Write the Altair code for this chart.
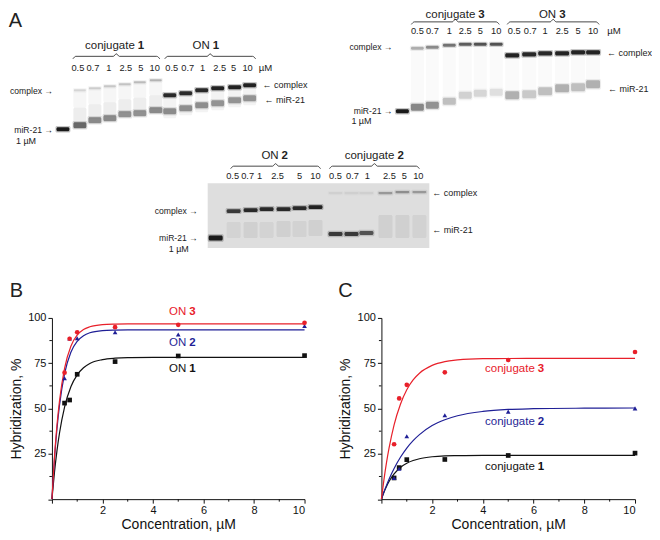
import altair as alt
import pandas as pd

FONT = "Liberation Sans"
RED, BLUE, BLACK = "#e8202a", "#1f1f96", "#111111"

# ---------------- panel B / C data ----------------
CONC = [0.5, 0.7, 1, 2.5, 5, 10]
ON1 = [53.0, 54.7, 68.9, 75.9, 79.0, 79.2]
ON2 = [66.7, 88.7, 88.8, 92.1, 90.9, 95.5]
ON3 = [69.8, 88.5, 92.1, 94.9, 96.2, 97.3]
FIT_X_B = [0, 0.1, 0.2, 0.3, 0.5, 0.75, 1, 1.25, 1.5, 2, 2.5, 3, 4, 6, 10]
ON1_FIT = [0, 14.8, 26.8, 36.5, 50.8, 62.0, 68.6, 72.5, 74.9, 77.0, 77.8, 78.1, 78.2, 78.2, 78.2]
ON2_FIT = [0, 22.1, 38.9, 51.8, 69.2, 81.1, 87.1, 90.2, 91.8, 93.0, 93.3, 93.4, 93.4, 93.4, 93.4]
ON3_FIT = [0, 23.2, 40.9, 54.3, 72.2, 84.4, 90.5, 93.6, 95.1, 96.3, 96.6, 96.7, 96.7, 96.7, 96.7]

CONJ1 = [11.7, 17.4, 21.8, 21.9, 24.1, 25.4]
CONJ2 = [11.7, 16.8, 34.7, 46.3, 48.3, 50.1]
CONJ3 = [30.3, 55.6, 63.1, 70.0, 76.8, 81.2]
FIT_X_C = [0, 0.1, 0.2, 0.3, 0.5, 0.75, 1, 1.25, 1.5, 2, 2.5, 3, 4, 5, 6, 8, 10]
CONJ1_FIT = [0, 3.8, 7.0, 9.7, 13.9, 17.5, 19.8, 21.3, 22.3, 23.4, 23.9, 24.05, 24.2, 24.2, 24.2, 24.2, 24.2]
CONJ2_FIT = [0, 4.0, 7.6, 11.0, 16.9, 23.1, 28.2, 32.3, 35.6, 40.6, 43.8, 46.0, 48.4, 49.5, 49.9, 50.2, 50.3]
CONJ3_FIT = [0, 10.8, 20.1, 28.1, 41.0, 52.4, 60.4, 65.8, 69.5, 73.8, 75.9, 76.8, 77.5, 77.6, 77.7, 77.7, 77.7]

B_NAMES = ["ON 1", "ON 2", "ON 3"]
C_NAMES = ["conjugate 1", "conjugate 2", "conjugate 3"]
B_LABEL_X = [5.16, 5.16, 5.16]
B_LABEL_Y = [71.6, 86.3, 103.3]
C_LABEL_X = [5.26, 5.26, 5.26]
C_LABEL_Y = [18.0, 42.6, 71.6]

# ---------------- gel data (figure pixel units of the picture) ----------------
G1_MARK = (60, 128)
G1_CONJ_X = [77, 92, 107, 122, 137, 153]
G1_CONJ_CPLX_Y = [89, 87, 85, 83, 81, 79]
G1_CONJ_CPLX_OP = [0.15, 0.18, 0.2, 0.22, 0.25, 0.28]
G1_CONJ_MIR_Y = [124, 119, 117, 113, 112, 109]
G1_CONJ_MIR_OP = [0.6, 0.45, 0.45, 0.42, 0.42, 0.45]
G1_ON_X = [167, 183, 199, 215, 232, 247]
G1_ON_CPLX_Y = [94, 92, 89, 87, 86, 84]
G1_ON_CPLX_OP = [0.9, 0.9, 0.92, 0.95, 0.95, 0.95]
G1_ON_MIR_Y = [110, 107, 104, 102, 99, 97]
G1_ON_MIR_OP = [0.42, 0.4, 0.4, 0.38, 0.38, 0.38]

G3_MARK = (400, 110)
G3_CONJ_X = [415, 430, 447, 463, 478, 494]
G3_CONJ_CPLX_Y = [47, 46, 44, 43, 43, 43]
G3_CONJ_CPLX_OP = [0.3, 0.45, 0.55, 0.65, 0.7, 0.7]
G3_CONJ_MIR_Y = [106, 104, 100, 94, 92, 91]
G3_CONJ_MIR_OP = [0.45, 0.4, 0.22, 0.15, 0.13, 0.1]
G3_ON_X = [510, 527, 543, 560, 576, 591]
G3_ON_CPLX_Y = [54, 53, 52, 52, 51, 51]
G3_ON_CPLX_OP = [0.95, 0.92, 0.92, 0.95, 0.95, 0.95]
G3_ON_MIR_Y = [94, 93, 90, 87, 86, 83]
G3_ON_MIR_OP = [0.28, 0.18, 0.22, 0.28, 0.22, 0.28]

G2_BOX = (205, 427, 182, 247)
G2_MARK = (213, 237)
G2_ON_X = [231, 248, 264, 281, 297, 313]
G2_ON_CPLX_Y = [210, 209, 208, 208, 207, 206]
G2_ON_CPLX_OP = [0.8, 0.9, 0.9, 0.9, 0.9, 0.95]
G2_ON_MIR_Y = [229, 229, 229, 228, 228, 227]
G2_ON_MIR_OP = [0.05, 0.07, 0.05, 0.07, 0.06, 0.07]
G2_CONJ_X = [333, 349, 364, 383, 400, 417]
G2_CONJ_CPLX_Y = [192, 192, 192, 192, 191, 191]
G2_CONJ_CPLX_OP = [0.05, 0.06, 0.06, 0.3, 0.35, 0.3]
G2_CONJ_MIR_Y = [233, 233, 232, 228, 228, 228]
G2_CONJ_MIR_OP = [0.8, 0.8, 0.65, 0.07, 0.07, 0.06]

CONC_LABELS = ["0.5", "0.7", "1", "2.5", "5", "10"]
G1_LAB_X = [75, 90, 106, 123, 138, 152, 169, 185, 200, 217, 231, 245]
G3_LAB_X = [415, 430, 447, 463, 478, 494, 512, 528, 543, 560, 576, 591]
G2_LAB_X = [230, 245, 257, 275, 297, 313, 333, 350, 365, 387, 402, 416]
LAB_Y = {"g1": 67, "g3": 30, "g2": 175}

HEADERS = [  # centre x, y, word, number
    (112, 45, "conjugate", "1"), (203, 45, "ON", "1"),
    (453, 14, "conjugate", "3"), (550, 14, "ON", "3"),
    (272, 155, "ON", "2"), (372, 155, "conjugate", "2"),
]
BRACES = [(70, 157, 55), (162, 253, 55), (409, 497, 20.5), (505, 597, 20.5),
          (228, 318, 165), (327, 417, 165)]
SIDE_RIGHT_ALIGNED = [("complex \u2192", 50, 90), ("miR-21 \u2192", 50, 129),
                      ("complex \u2192", 390, 46), ("miR-21 \u2192", 390, 110),
                      ("complex \u2192", 195, 210), ("miR-21 \u2192", 195, 237)]
SIDE_LEFT_ALIGNED = [("\u2190 complex", 260, 84), ("\u2190 miR-21", 262, 99),
                     ("\u2190 complex", 605, 52), ("\u2190 miR-21", 606, 88),
                     ("\u2190 complex", 430, 192), ("\u2190 miR-21", 430, 229)]
SIDE_CENTER = [("1 \u00b5M", 23, 140), ("1 \u00b5M", 359, 120), ("1 \u00b5M", 176, 248)]
UNIT = [("\u00b5M", 263, 67), ("\u00b5M", 612, 30)]
LETTERS = [("A", 12.5, 9.5), ("B", 13.5, 280), ("C", 343, 280)]

# ---------------- build gel frames ----------------
bands = []


def band(x, y, op, w, h):
    bands.append(dict(x1=x - w - 1, x2=x + w + 1, y1=y - h - 1.2, y2=y + h + 1.2, op=op * 0.25))
    bands.append(dict(x1=x - w, x2=x + w, y1=y - h, y2=y + h, op=op))


def smear(x, ytop, ybot, op, w):
    bands.append(dict(x1=x - w, x2=x + w, y1=ytop, y2=ybot, op=op))


# gel 1
band(G1_MARK[0], G1_MARK[1], 1.0, 6.5, 2)
for x, cy, co, my, mo in zip(G1_CONJ_X, G1_CONJ_CPLX_Y, G1_CONJ_CPLX_OP, G1_CONJ_MIR_Y, G1_CONJ_MIR_OP):
    smear(x, cy + 1, (cy + my) / 2, 0.04, 6.5)
    smear(x, (cy + my) / 2, my - 2, 0.08, 6.5)
    band(x, cy, co, 6, 1)
    band(x, my, mo, 6.5, 3)
for x, cy, co, my, mo in zip(G1_ON_X, G1_ON_CPLX_Y, G1_ON_CPLX_OP, G1_ON_MIR_Y, G1_ON_MIR_OP):
    smear(x, cy + 2, my + 7, 0.05, 6.5)
    band(x, my, mo, 6.5, 3)
    band(x, cy, co, 6.5, 2)
# gel 3
band(G3_MARK[0], G3_MARK[1], 1.0, 6.5, 2)
for x, cy, co, my, mo in zip(G3_CONJ_X, G3_CONJ_CPLX_Y, G3_CONJ_CPLX_OP, G3_CONJ_MIR_Y, G3_CONJ_MIR_OP):
    smear(x, cy + 2, my + 6, 0.025, 6.5)
    band(x, cy, co, 6.5, 1.5)
    band(x, my, mo, 6.5, 3.5)
for x, cy, co, my, mo in zip(G3_ON_X, G3_ON_CPLX_Y, G3_ON_CPLX_OP, G3_ON_MIR_Y, G3_ON_MIR_OP):
    smear(x, cy + 3, my + 6, 0.025, 7)
    band(x, cy, co, 7, 2.2)
    band(x, my, mo, 7, 4)
# gel 2
band(G2_MARK[0], G2_MARK[1], 1.0, 7, 2.5)
for x, cy, co, my, mo in zip(G2_ON_X, G2_ON_CPLX_Y, G2_ON_CPLX_OP, G2_ON_MIR_Y, G2_ON_MIR_OP):
    smear(x, my - 8, my + 8, mo, 7)
    band(x, cy, co, 7, 1.8)
for x, cy, co, my, mo in zip(G2_CONJ_X, G2_CONJ_CPLX_Y, G2_CONJ_CPLX_OP, G2_CONJ_MIR_Y, G2_CONJ_MIR_OP):
    band(x, cy, co, 7, 1.2)
    if mo > 0.3:
        band(x, my, mo, 7, 2)
    else:
        smear(x, my - 14, my + 9, mo, 7)

band_df = pd.DataFrame(bands)
box_df = pd.DataFrame([dict(x1=G2_BOX[0], x2=G2_BOX[1], y1=G2_BOX[2], y2=G2_BOX[3])])

conc_rows = []
for key, xs in (("g1", G1_LAB_X), ("g3", G3_LAB_X), ("g2", G2_LAB_X)):
    for x, t in zip(xs, CONC_LABELS * 2):
        conc_rows.append(dict(x=x, y=LAB_Y[key], t=t))
conc_df = pd.DataFrame(conc_rows)

head_df = pd.DataFrame([dict(x=x, y=y, w=w, n=n) for x, y, w, n in HEADERS])

brace_rows = []
for b, (x0, x1, y) in enumerate(BRACES):
    m = (x0 + x1) / 2
    for i, (px, py) in enumerate([(x0, y + 2.5), (x0 + 3, y), (m - 3, y), (m, y - 2.5),
                                  (m + 3, y), (x1 - 3, y), (x1, y + 2.5)]):
        brace_rows.append(dict(x=px, y=py, b=b, i=i))
brace_df = pd.DataFrame(brace_rows)


def tdf(items):
    return pd.DataFrame([dict(t=t, x=x, y=y) for t, x, y in items])


# the gel strip uses the picture's own pixel frame (from x=6, y=7 of the picture)
X0, Y0 = 6, 7
TOP_W, TOP_H = 644, 300
GX = alt.Scale(domain=[X0, X0 + TOP_W], nice=False, zero=False)
GY = alt.Scale(domain=[Y0, Y0 + TOP_H], nice=False, zero=False, reverse=True)


def gx(f):
    return alt.X(f, type="quantitative", scale=GX, axis=None)


def gy(f):
    return alt.Y(f, type="quantitative", scale=GY, axis=None)


def txt(df, size, align="center", weight="normal", dx=0, baseline="middle", clip=True):
    return alt.Chart(df).mark_text(font=FONT, fontSize=size, color="#222", baseline=baseline,
                                   align=align, fontWeight=weight, dx=dx, clip=clip)


box = alt.Chart(box_df).mark_rect(fill="#dedede", clip=True).encode(
    x=gx("x1"), x2="x2", y=gy("y1"), y2="y2")
gel = alt.Chart(band_df).mark_rect(fill="#1a1a1a", cornerRadius=1.5, clip=True).encode(
    x=gx("x1"), x2="x2", y=gy("y1"), y2="y2", opacity=alt.Opacity("op:Q", scale=None))
braces = alt.Chart(brace_df).mark_line(color="#333333", strokeWidth=0.9, interpolate="monotone",
                                       clip=True).encode(
    x=gx("x"), y=gy("y"), detail="b:N", order="i:Q")
conc_t = txt(conc_df, 9.3).encode(x=gx("x"), y=gy("y"), text="t:N")
unit_t = txt(tdf(UNIT), 9.6).encode(x=gx("x"), y=gy("y"), text="t:N")
on_h = head_df[head_df.w == "ON"]
cj_h = head_df[head_df.w != "ON"]
head_onw = txt(on_h, 11.5, "right", dx=4).encode(x=gx("x"), y=gy("y"), text="w:N")
head_onn = txt(on_h, 11.5, "left", "bold", dx=7).encode(x=gx("x"), y=gy("y"), text="n:N")
head_cw = txt(cj_h, 11.5, "right", dx=20).encode(x=gx("x"), y=gy("y"), text="w:N")
head_cn = txt(cj_h, 11.5, "left", "bold", dx=23).encode(x=gx("x"), y=gy("y"), text="n:N")
side_r = txt(tdf(SIDE_RIGHT_ALIGNED), 8.6, "right").encode(x=gx("x"), y=gy("y"), text="t:N")
side_l = txt(tdf(SIDE_LEFT_ALIGNED), 9, "left").encode(x=gx("x"), y=gy("y"), text="t:N")
side_c = txt(tdf(SIDE_CENTER), 9).encode(x=gx("x"), y=gy("y"), text="t:N")
letters = txt(tdf(LETTERS), 20, baseline="top", clip=False).encode(x=gx("x"), y=gy("y"), text="t:N")

top = alt.layer(box, gel, braces, conc_t, unit_t, head_onw, head_onn, head_cw, head_cn,
                side_r, side_l, side_c, letters).properties(width=TOP_W, height=TOP_H)

PH = 181.5
B_TOP = 317


def panel(names, vals, fits, fit_x, lab_x, lab_y, word, pre_dx, num_dx, width):
    pts = pd.DataFrame([dict(x=c, y=v, s=n) for n, vv in zip(names, vals) for c, v in zip(CONC, vv)])
    fit = pd.DataFrame([dict(x=c, y=v, s=n) for n, vv in zip(names, fits) for c, v in zip(fit_x, vv)])
    lab = pd.DataFrame([dict(x=x, y=y, s=n, w=word, n=n.split()[-1]) for n, x, y in zip(names, lab_x, lab_y)])
    xs = alt.Scale(domain=[0, 10], nice=False, zero=False)
    ys = alt.Scale(domain=[0, 100], nice=False, zero=False)
    xe = alt.X("x:Q", scale=xs, axis=alt.Axis(
        values=[0, 2, 4, 6, 8, 10], labelExpr="datum.value == 0 ? '' : datum.label",
        title="Concentration, \u00b5M", tickSize=4, labelPadding=1, titlePadding=2.5, grid=False))
    ye = alt.Y("y:Q", scale=ys, axis=alt.Axis(
        values=[0, 25, 50, 75, 100], labelExpr="datum.value == 0 ? '' : datum.label",
        title="Hybridization, %", tickSize=4, labelPadding=2, titlePadding=4.5, grid=False))
    col = alt.Color("s:N", scale=alt.Scale(domain=names, range=[BLACK, BLUE, RED]), legend=None)
    shp = alt.Shape("s:N", scale=alt.Scale(domain=names, range=["square", "triangle-up", "circle"]), legend=None)
    lines = alt.Chart(fit).mark_line(strokeWidth=1.2, interpolate="monotone").encode(x=xe, y=ye, color=col)
    points = alt.Chart(pts).mark_point(filled=True, size=22, opacity=1).encode(x=xe, y=ye, color=col, shape=shp)
    my = alt.Chart(pd.DataFrame({"y": [12.5, 37.5, 62.5, 87.5]})).mark_rule(color=BLACK, strokeWidth=1).encode(
        y=ye, x=alt.value(0), x2=alt.value(-2.5))
    mx = alt.Chart(pd.DataFrame({"x": [1, 3, 5, 7, 9]})).mark_rule(color=BLACK, strokeWidth=1).encode(
        x=xe, y=alt.value(PH), y2=alt.value(PH + 2.5))
    pre = alt.Chart(lab).mark_text(font=FONT, fontSize=11.5, align="right", baseline="middle", dx=pre_dx).encode(
        x=xe, y=ye, text="w:N", color=col)
    num = alt.Chart(lab).mark_text(font=FONT, fontSize=11.5, align="left", baseline="middle", dx=num_dx,
                                   fontWeight="bold").encode(x=xe, y=ye, text="n:N", color=col)
    return alt.layer(lines, points, my, mx, pre, num).properties(width=width, height=PH)


pB = panel(B_NAMES, [ON1, ON2, ON3], [ON1_FIT, ON2_FIT, ON3_FIT], FIT_X_B, B_LABEL_X, B_LABEL_Y, "ON", 4, 7, 253)
pC = panel(C_NAMES, [CONJ1, CONJ2, CONJ3], [CONJ1_FIT, CONJ2_FIT, CONJ3_FIT], FIT_X_C, C_LABEL_X, C_LABEL_Y,
           "conjugate", 20, 23, 254)

# B's plot area starts at x=49 of the picture
spacer = alt.Chart(pd.DataFrame({"a": [0]})).mark_text(text="").encode(
    x=alt.value(0), y=alt.value(0)).properties(width=49 - X0, height=PH)
bottom = alt.hconcat(spacer, alt.hconcat(pB, pC, spacing=77, bounds="flush"), spacing=0, bounds="flush")
chart = alt.vconcat(top, bottom, spacing=B_TOP - Y0 - TOP_H, bounds="flush").properties(padding=0).configure_view(
    stroke=None).configure_axis(
    domainColor=BLACK, tickColor=BLACK, labelColor=BLACK, titleColor=BLACK,
    labelFont=FONT, titleFont=FONT, labelFontSize=11, titleFontSize=14, titleFontWeight="normal",
    domainWidth=1, tickWidth=1)

chart.save("out.html", embed_options={"renderer": "svg", "actions": False})
